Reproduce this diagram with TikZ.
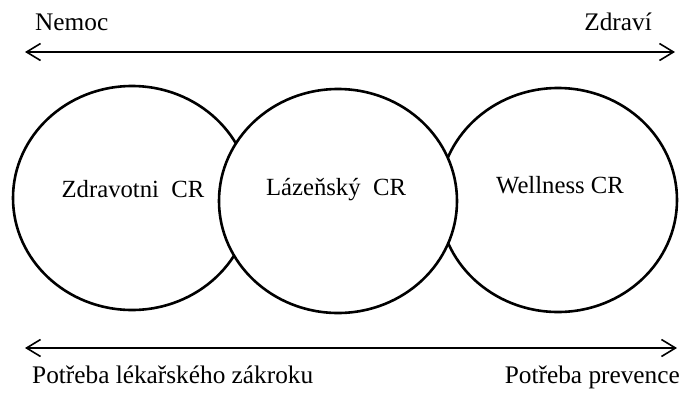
\documentclass[tikz,border=0pt]{standalone}
\usepackage{fontspec}
\setmainfont{Liberation Serif}
\usetikzlibrary{shapes.geometric,arrows.meta}
\begin{document}
\begin{tikzpicture}[x=1pt,y=-1pt,
  bubble/.style={ellipse,draw=black,line width=2.6pt,fill=white,minimum width=238pt,minimum height=224pt,inner sep=0pt},
  lbl/.style={inner sep=0pt,font=\fontsize{24.7}{28}\selectfont},
  axlbl/.style={inner sep=0pt,font=\fontsize{25.3}{29}\selectfont},
  axis/.style={line width=1.8pt,{Straight Barb[length=14pt,width=17pt,line width=1.6pt]}-{Straight Barb[length=14pt,width=17pt,line width=1.6pt]}}]
\useasboundingbox (0,0) rectangle (686,392);
% circles
\node[bubble] (c1) at (132,198) {};
\node[bubble] (c3) at (558,200) {};
\node[bubble] (c2) at (338,201) {};
\node[lbl,anchor=base] (t1) at (133,197) {Zdravotni\ \ CR};
\node[lbl,anchor=base] (t2) at (336,195) {Lázeňský\ \ CR};
\node[lbl,anchor=base] (t3) at (560,193) {Wellness CR};
% top axis
\coordinate (tl) at (25,52);
\coordinate (tr) at (675,52);
\draw[axis] (tl) -- (tr);
\node[axlbl,anchor=base west] (nemoc) at (35,30) {Nemoc};
\node[axlbl,anchor=base east] (zdravi) at (652,30) {Zdraví};
% bottom axis
\coordinate (bl) at (25,348);
\coordinate (br) at (677,348);
\draw[axis] (bl) -- (br);
\node[axlbl,anchor=base west] (potl) at (32,383) {Potřeba lékařského zákroku};
\node[axlbl,anchor=base east] (potr) at (680,383) {Potřeba prevence};
\end{tikzpicture}
\end{document}
